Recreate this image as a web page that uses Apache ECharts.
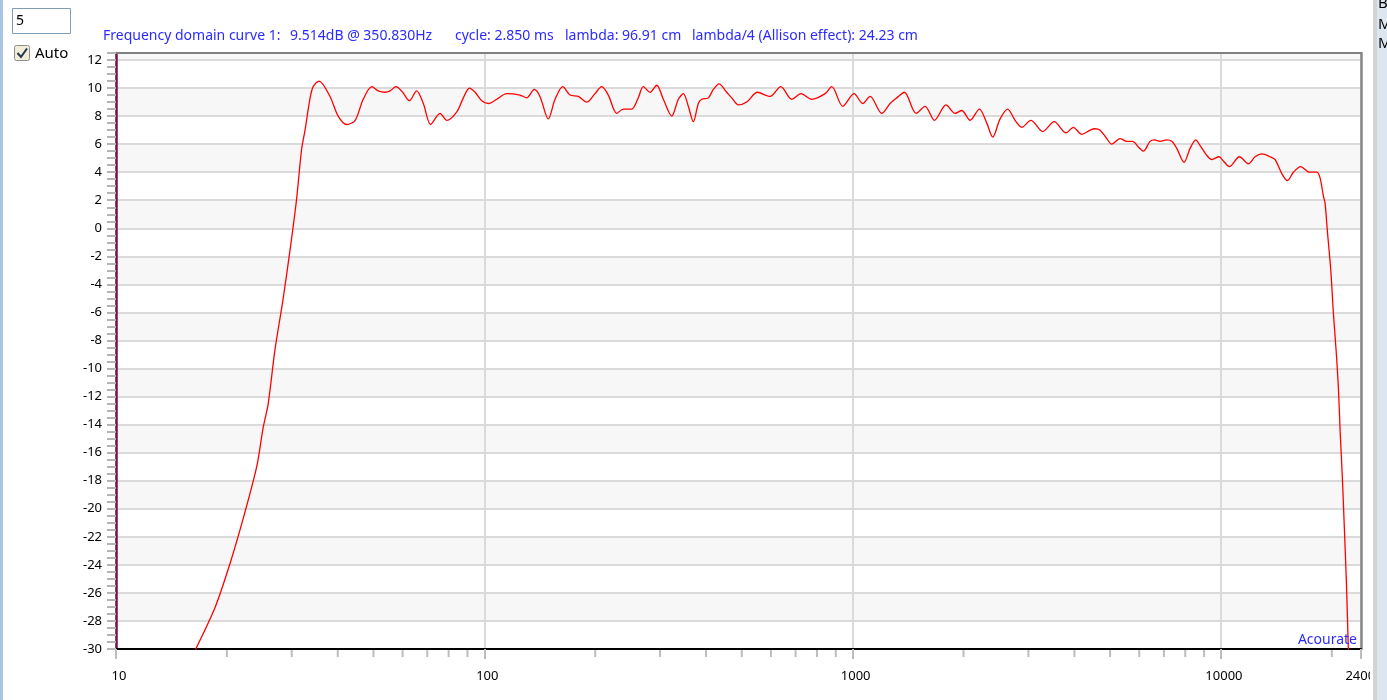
<!DOCTYPE html>
<html>
<head>
<meta charset="utf-8">
<style>
  html, body { margin: 0; padding: 0; background: #ffffff; }
  #chart { width: 1387px; height: 700px; }
</style>
<script src="https://cdn.jsdelivr.net/npm/echarts@6/dist/echarts.min.js"></script>
</head>
<body>
<div id="chart"></div>
<script>
// ---- data ----
const freqHz = [
  16.1, 16.4, 18.6, 20.4, 22.2, 24.1, 25.1, 25.9, 27.0, 28.4, 29.7, 30.9, 31.9, 32.6, 33.6, 34.3, 35.6,
  38.1, 40.1, 42.3, 44.6, 46.9, 49.5, 51.5, 53.8, 55.5, 57.6, 60.0, 62.6, 65.5, 68.3, 71.5, 75.8, 79.1,
  84.2, 87.7, 91.1, 94.4, 98.4, 102.5, 108.1, 115, 125, 130.3, 136.7, 141.6, 149.2, 155.6, 163.3, 170.9,
  180, 189.7, 199.7, 208.3, 217.1, 228.8, 238.5, 251.2, 261.8, 270.2, 281.8, 293.8, 306.2, 322.7, 336.4,
  347, 358, 369.4, 381.1, 389.3, 405.7, 418.6, 433.8, 455.1, 469.6, 489.5, 515.8, 551.3, 596.7, 638.1,
  683.5, 724.4, 774.5, 841.9, 877.9, 939.9, 1009, 1065, 1115, 1200, 1264, 1318, 1382, 1487, 1573, 1667,
  1793, 1897, 1978, 2084, 2208, 2313, 2401, 2514, 2637, 2760, 2879, 3046, 3282, 3524, 3798, 3974, 4188,
  4412, 4551, 4696, 4897, 5052, 5321, 5549, 5761, 5967, 6157, 6420, 6595, 6834, 7126, 7353, 7586, 7940,
  8245, 8544, 8778, 9150, 9441, 9881, 10150, 10539, 11220, 11870, 12380, 12910, 13600, 14030, 14630,
  15150, 15730, 16470, 17380, 18200, 18580, 18970, 19170, 19450, 19870, 20200, 20540, 20840,
  21060, 21360, 21630, 21910, 22180, 22260
];
const levelDb = [
  -30.5, -30.1, -27.0, -23.9, -20.6, -17.0, -14.2, -12.5, -8.7, -5.1, -1.5, 2.0, 5.6, 7.0, 9.2, 10.1, 10.5,
  9.4, 8.0, 7.4, 7.7, 9.2, 10.1, 9.8, 9.7, 9.8, 10.1, 9.7, 9.1, 9.8, 8.9, 7.4, 8.2, 7.7,
  8.3, 9.3, 10.0, 9.7, 9.1, 8.9, 9.2, 9.6, 9.5, 9.3, 9.9, 9.4, 7.8, 9.2, 10.1, 9.5,
  9.4, 9.0, 9.6, 10.1, 9.5, 8.2, 8.5, 8.5, 9.3, 10.1, 9.7, 10.2, 9.2, 8.0, 9.2,
  9.6, 8.7, 7.6, 8.9, 9.2, 9.3, 9.9, 10.3, 9.7, 9.3, 8.8, 9.0, 9.7, 9.4, 10.1,
  9.2, 9.6, 9.2, 9.6, 10.1, 8.7, 9.6, 8.9, 9.4, 8.2, 8.9, 9.3, 9.7, 8.2, 8.7, 7.7,
  8.8, 8.2, 8.4, 7.7, 8.5, 7.5, 6.5, 7.8, 8.5, 7.7, 7.2, 7.7, 6.9, 7.6, 6.8, 7.2, 6.7,
  7.0, 7.1, 7.0, 6.4, 6.0, 6.4, 6.2, 6.2, 5.8, 5.5, 6.2, 6.3, 6.2, 6.3, 6.2, 5.7, 4.7,
  5.7, 6.3, 5.9, 5.2, 4.9, 5.1, 4.8, 4.4, 5.1, 4.6, 5.1, 5.3, 5.1, 4.9, 3.9,
  3.4, 4.0, 4.4, 4.0, 4.0, 3.6, 2.3, 1.8, -0.2, -3.0, -6.1, -8.7, -11.4,
  -14.4, -17.8, -21.4, -25.3, -30.1, -31.0
];
const xMin = 10, xMax = 24000;
const yMin = -30, yMax = 12.5;
const yLabelStep = 2;
const xMinorTicks = [20, 30, 40, 50, 60, 70, 80, 90, 200, 300, 400, 500, 600, 700, 800, 900,
  2000, 3000, 4000, 5000, 6000, 7000, 8000, 9000, 20000];
const titleParts = [
  'Frequency domain curve 1:',
  '9.514dB @ 350.830Hz',
  'cycle: 2.850 ms',
  'lambda: 96.91 cm',
  'lambda/4 (Allison effect): 24.23 cm'
];
const titleX = [103, 290, 455, 565, 692];

// ---- chart ----
const chart = echarts.init(document.getElementById('chart'), null, { renderer: 'canvas' });
const FONT = '"Noto Sans", "Open Sans", sans-serif';
const blue = '#2b2bff';

const graphics = [];
titleParts.forEach((t, i) => {
  graphics.push({ type: 'text', z: 50, style: { text: t, x: titleX[i], y: 36.5, verticalAlign: 'middle',
    font: '14px ' + FONT, fill: blue } });
});
graphics.push(
  { type: 'rect', z: 50, shape: { x: 0, y: 0, width: 3, height: 700 }, style: { fill: '#a9c5e2' } },
  { type: 'rect', z: 50, shape: { x: 12.5, y: 8.5, width: 58, height: 25 }, style: { fill: '#fff', stroke: '#7f9db9', lineWidth: 1 } },
  { type: 'text', z: 51, style: { text: '5', x: 16, y: 21, verticalAlign: 'middle', font: '14px ' + FONT, fill: '#000' } },
  { type: 'rect', z: 50, shape: { x: 14.5, y: 45.5, width: 15, height: 15, r: 2 }, style: { fill: '#f1edd9', stroke: '#8e8e8e', lineWidth: 1 } },
  { type: 'polyline', z: 51, shape: { points: [[17.5, 53], [21, 57], [27, 48.5]] }, style: { stroke: '#23324f', lineWidth: 2, fill: null } },
  { type: 'text', z: 51, style: { text: 'Auto', x: 35, y: 53.5, verticalAlign: 'middle', font: '15px ' + FONT, fill: '#000' } },
  { type: 'text', z: 51, style: { text: 'Acourate', x: 1357, y: 640, align: 'right', verticalAlign: 'middle', font: '14px ' + FONT, fill: blue } },
  { type: 'rect', z: 100, shape: { x: 1370, y: 0, width: 17, height: 700 }, style: { fill: '#ffffff' } },
  { type: 'rect', z: 100, shape: { x: 1373, y: 0, width: 4, height: 700 }, style: { fill: '#d3d3d3' } },
  { type: 'rect', z: 100, shape: { x: 1377, y: 0, width: 10, height: 700 }, style: { fill: '#dce6f0' } },
  { type: 'text', z: 101, style: { text: 'B', x: 1378, y: 4, verticalAlign: 'middle', font: '15px ' + FONT, fill: '#000' } },
  { type: 'text', z: 101, style: { text: 'M', x: 1378, y: 25, verticalAlign: 'middle', font: '15px ' + FONT, fill: '#000' } },
  { type: 'text', z: 101, style: { text: 'M', x: 1378, y: 44, verticalAlign: 'middle', font: '15px ' + FONT, fill: '#000' } }
);

const option = {
  animation: false,
  backgroundColor: '#ffffff',
  grid: { left: 116, top: 53, width: 1245, height: 596, containLabel: false },
  xAxis: [
    {
      type: 'log', logBase: 10, min: xMin, max: xMax, position: 'bottom',
      axisLine: { show: true, onZero: false, lineStyle: { color: '#000000', width: 2 } },
      axisTick: { show: true, length: 10, lineStyle: { color: '#bdbdbd', width: 2 } },
      axisLabel: { margin: 21, color: '#000', fontFamily: FONT, fontSize: 13, padding: [0, 0, 0, 6],
        formatter: v => String(Math.round(v)) },
      splitLine: { show: true, lineStyle: { color: '#dadada', width: 2 } },
      minorTick: { show: false }
    },
    {
      type: 'log', logBase: 10, min: xMin, max: xMax, position: 'top',
      axisLine: { show: true, onZero: false, lineStyle: { color: '#808080', width: 2 } },
      axisTick: { show: false }, axisLabel: { show: false }, splitLine: { show: false }
    }
  ],
  yAxis: [
    {
      type: 'value', min: yMin, max: yMax, interval: yLabelStep, position: 'left',
      axisLine: { show: true, onZero: false, lineStyle: { color: '#7a0f48', width: 2.5 } },
      axisTick: { show: false },
      axisLabel: { margin: 14, color: '#000', fontFamily: FONT, fontSize: 13, padding: [4, 0, 0, 0],
        formatter: v => (Math.abs(v % yLabelStep) < 1e-9 ? String(v) : '') },
      splitLine: { show: true, lineStyle: { color: '#dadada', width: 2 } },
      splitArea: { show: true, areaStyle: { color: ['#ffffff', '#f7f7f7'] } }
    },
    {
      type: 'value', min: yMin, max: yMax, interval: 0.5, position: 'left',
      axisLine: { show: false, onZero: false },
      axisTick: { show: true, length: 9, lineStyle: { color: '#b5b5b5', width: 2 } },
      axisLabel: { show: false }, splitLine: { show: false }
    },
    {
      type: 'value', min: yMin, max: yMax, position: 'right',
      axisLine: { show: true, onZero: false, lineStyle: { color: '#878787', width: 2.5 } },
      axisTick: { show: false }, axisLabel: { show: false }, splitLine: { show: false }
    }
  ],
  series: [
    {
      type: 'custom', xAxisIndex: 0, yAxisIndex: 0, silent: true, clip: false, z: 1,
      data: xMinorTicks.map(f => [f, yMin]),
      renderItem: (params, api) => {
        const p = api.coord([api.value(0), api.value(1)]);
        return { type: 'line', shape: { x1: p[0], y1: p[1] + 1, x2: p[0], y2: p[1] + 8 },
          style: { stroke: '#bdbdbd', lineWidth: 2 } };
      }
    },
    {
      type: 'line', xAxisIndex: 0, yAxisIndex: 0, z: 5,
      data: freqHz.map((f, i) => [f, levelDb[i]]),
      showSymbol: false, symbol: 'none', smooth: 0.3, clip: true,
      lineStyle: { color: '#ff0000', width: 1.3 }
    }
  ],
  graphic: graphics
};
chart.setOption(option);
</script>
</body>
</html>
